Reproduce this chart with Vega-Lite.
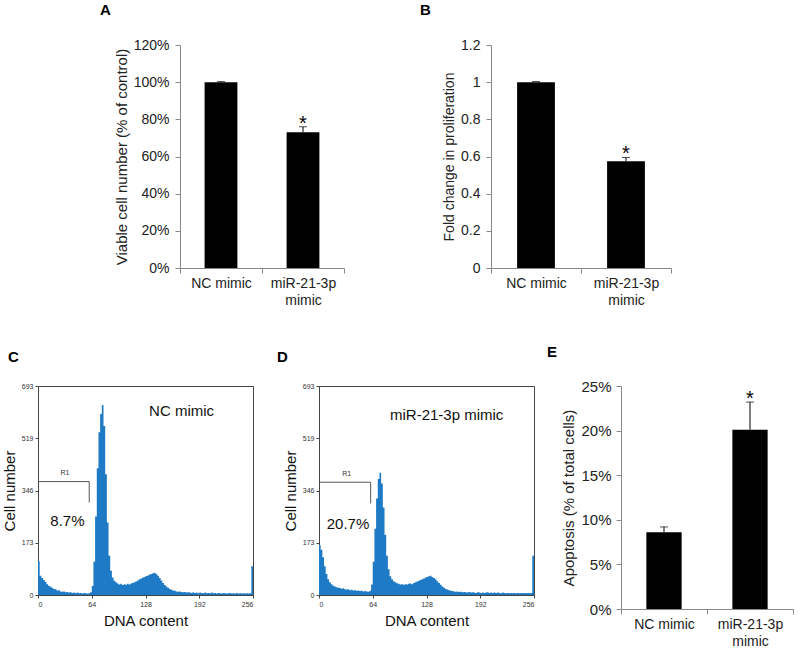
{
  "$schema": "https://vega.github.io/schema/vega-lite/v6.json",
  "padding": {"left": 1, "top": 3, "right": 5, "bottom": 5},
  "background": "white",
  "config": {
    "font": "Liberation Sans",
    "view": {"stroke": null},
    "axis": {"labelFont": "Liberation Sans", "titleFont": "Liberation Sans", "labelColor": "#222", "titleColor": "#222", "titleFontWeight": "normal", "domainColor": "#888", "tickColor": "#888", "grid": false, "labelOverlap": false},
    "title": {"font": "Liberation Sans", "fontSize": 15, "fontWeight": "bold", "anchor": "start", "frame": "group", "color": "#000"}
  },
  "datasets": {
    "A": [{"group": "NC mimic", "value": 1.0, "hi": 1.003, "star": ""}, {"group": "miR-21-3p mimic", "value": 0.73, "hi": 0.76, "star": "*"}],
    "B": [{"group": "NC mimic", "value": 1.0, "hi": 1.003, "star": ""}, {"group": "miR-21-3p mimic", "value": 0.575, "hi": 0.595, "star": "*"}],
    "E": [{"group": "NC mimic", "value": 0.086, "hi": 0.092, "star": ""}, {"group": "miR-21-3p mimic", "value": 0.201, "hi": 0.232, "star": "*"}],
    "C": [
      {"x":0,"y":112},{"x":2,"y":64},{"x":4,"y":56},{"x":6,"y":50},{"x":8,"y":44},{"x":10,"y":36},{"x":12,"y":31},{"x":14,"y":27},{"x":16,"y":24},{"x":18,"y":20},
      {"x":20,"y":19},{"x":22,"y":15},{"x":24,"y":16},{"x":26,"y":12},{"x":28,"y":11},{"x":30,"y":12},{"x":32,"y":9},{"x":34,"y":10},{"x":36,"y":8},{"x":38,"y":9},
      {"x":40,"y":7},{"x":42,"y":8},{"x":44,"y":6},{"x":46,"y":8},{"x":48,"y":6},{"x":50,"y":7},{"x":52,"y":5},{"x":54,"y":7},{"x":56,"y":6},{"x":58,"y":5},
      {"x":60,"y":6},{"x":62,"y":9},{"x":64,"y":30},{"x":66,"y":110},{"x":68,"y":260},{"x":70,"y":420},{"x":72,"y":540},{"x":74,"y":600},{"x":76,"y":630},{"x":78,"y":560},
      {"x":80,"y":400},{"x":82,"y":240},{"x":84,"y":130},{"x":86,"y":80},{"x":88,"y":58},{"x":90,"y":47},{"x":92,"y":42},{"x":94,"y":38},{"x":96,"y":35},{"x":98,"y":37},
      {"x":100,"y":33},{"x":102,"y":36},{"x":104,"y":34},{"x":106,"y":37},{"x":108,"y":35},{"x":110,"y":38},{"x":112,"y":40},{"x":114,"y":42},{"x":116,"y":45},{"x":118,"y":48},
      {"x":120,"y":52},{"x":122,"y":55},{"x":124,"y":58},{"x":126,"y":60},{"x":128,"y":63},{"x":130,"y":65},{"x":132,"y":68},{"x":134,"y":70},{"x":136,"y":72},{"x":138,"y":74},
      {"x":140,"y":70},{"x":142,"y":64},{"x":144,"y":56},{"x":146,"y":48},{"x":148,"y":40},{"x":150,"y":33},{"x":152,"y":28},{"x":154,"y":24},{"x":156,"y":20},{"x":158,"y":17},
      {"x":160,"y":15},{"x":162,"y":14},{"x":164,"y":12},{"x":166,"y":11},{"x":168,"y":12},{"x":170,"y":10},{"x":172,"y":9},{"x":174,"y":10},{"x":176,"y":8},{"x":178,"y":9},
      {"x":180,"y":8},{"x":182,"y":7},{"x":184,"y":9},{"x":186,"y":7},{"x":188,"y":8},{"x":190,"y":6},{"x":192,"y":8},{"x":194,"y":7},{"x":196,"y":6},{"x":198,"y":8},
      {"x":200,"y":6},{"x":202,"y":7},{"x":204,"y":6},{"x":206,"y":8},{"x":208,"y":6},{"x":210,"y":7},{"x":212,"y":5},{"x":214,"y":7},{"x":216,"y":6},{"x":218,"y":5},
      {"x":220,"y":7},{"x":222,"y":6},{"x":224,"y":5},{"x":226,"y":6},{"x":228,"y":7},{"x":230,"y":5},{"x":232,"y":6},{"x":234,"y":5},{"x":236,"y":7},{"x":238,"y":5},
      {"x":240,"y":6},{"x":242,"y":5},{"x":244,"y":6},{"x":246,"y":5},{"x":248,"y":6},{"x":250,"y":5},{"x":252,"y":6},{"x":254,"y":95},{"x":256,"y":95}
    ],
    "D": [
      {"x":0,"y":165},{"x":2,"y":150},{"x":4,"y":125},{"x":6,"y":95},{"x":8,"y":70},{"x":10,"y":52},{"x":12,"y":42},{"x":14,"y":36},{"x":16,"y":31},{"x":18,"y":28},
      {"x":20,"y":26},{"x":22,"y":24},{"x":24,"y":23},{"x":26,"y":21},{"x":28,"y":22},{"x":30,"y":19},{"x":32,"y":18},{"x":34,"y":19},{"x":36,"y":16},{"x":38,"y":17},
      {"x":40,"y":15},{"x":42,"y":16},{"x":44,"y":14},{"x":46,"y":15},{"x":48,"y":13},{"x":50,"y":14},{"x":52,"y":12},{"x":54,"y":13},{"x":56,"y":12},{"x":58,"y":11},
      {"x":60,"y":14},{"x":62,"y":35},{"x":64,"y":110},{"x":66,"y":220},{"x":68,"y":320},{"x":70,"y":385},{"x":72,"y":405},{"x":74,"y":370},{"x":76,"y":290},{"x":78,"y":200},
      {"x":80,"y":130},{"x":82,"y":85},{"x":84,"y":62},{"x":86,"y":52},{"x":88,"y":46},{"x":90,"y":42},{"x":92,"y":39},{"x":94,"y":37},{"x":96,"y":35},{"x":98,"y":36},
      {"x":100,"y":34},{"x":102,"y":36},{"x":104,"y":35},{"x":106,"y":37},{"x":108,"y":38},{"x":110,"y":36},{"x":112,"y":40},{"x":114,"y":42},{"x":116,"y":45},{"x":118,"y":47},
      {"x":120,"y":50},{"x":122,"y":52},{"x":124,"y":55},{"x":126,"y":58},{"x":128,"y":60},{"x":130,"y":62},{"x":132,"y":64},{"x":134,"y":60},{"x":136,"y":56},{"x":138,"y":52},
      {"x":140,"y":46},{"x":142,"y":40},{"x":144,"y":34},{"x":146,"y":28},{"x":148,"y":24},{"x":150,"y":20},{"x":152,"y":18},{"x":154,"y":16},{"x":156,"y":14},{"x":158,"y":13},
      {"x":160,"y":12},{"x":162,"y":11},{"x":164,"y":12},{"x":166,"y":10},{"x":168,"y":11},{"x":170,"y":9},{"x":172,"y":10},{"x":174,"y":9},{"x":176,"y":8},{"x":178,"y":10},
      {"x":180,"y":8},{"x":182,"y":9},{"x":184,"y":8},{"x":186,"y":7},{"x":188,"y":9},{"x":190,"y":8},{"x":192,"y":7},{"x":194,"y":8},{"x":196,"y":7},{"x":198,"y":8},
      {"x":200,"y":9},{"x":202,"y":7},{"x":204,"y":8},{"x":206,"y":7},{"x":208,"y":8},{"x":210,"y":7},{"x":212,"y":8},{"x":214,"y":7},{"x":216,"y":6},{"x":218,"y":8},
      {"x":220,"y":7},{"x":222,"y":6},{"x":224,"y":7},{"x":226,"y":6},{"x":228,"y":7},{"x":230,"y":6},{"x":232,"y":7},{"x":234,"y":6},{"x":236,"y":7},{"x":238,"y":6},
      {"x":240,"y":7},{"x":242,"y":6},{"x":244,"y":7},{"x":246,"y":6},{"x":248,"y":7},{"x":250,"y":6},{"x":252,"y":7},{"x":254,"y":130},{"x":256,"y":130}
    ],
    "C_gate": [{"x": 0, "x2": 61, "y": 376, "y2": 376}, {"x": 61, "x2": 61, "y": 376, "y2": 307}],
    "D_gate": [{"x": 0, "x2": 61.5, "y": 374, "y2": 374}, {"x": 61.5, "x2": 61.5, "y": 374, "y2": 304}],
    "C_text": [{"x": 32, "y": 405, "label": "R1", "kind": "small"}, {"x": 35, "y": 246, "label": "8.7%", "kind": "big"}, {"x": 171, "y": 609, "label": "NC mimic", "kind": "big"}],
    "D_text": [{"x": 33, "y": 402, "label": "R1", "kind": "small"}, {"x": 34.5, "y": 235, "label": "20.7%", "kind": "big"}, {"x": 152, "y": 596, "label": "miR-21-3p mimic", "kind": "big"}]
  },
  "spacing": 341,
  "bounds": "flush",
  "vconcat": [
    {
      "spacing": 0,
      "bounds": "flush",
      "hconcat": [
        {"width": 142, "height": 10, "data": {"values": [{}]}, "mark": {"type": "point", "opacity": 0}, "encoding": {}},
        {
          "width": 164, "height": 223,
          "title": {"text": "A", "dx": -80, "offset": 20},
          "data": {"name": "A"},
          "encoding": {"x": {"field": "group", "type": "nominal", "sort": null, "scale": {"paddingInner": 0, "paddingOuter": 0}, "axis": {"title": null, "labelAngle": 0, "tickBand": "extent", "labelFontSize": 14, "labelPadding": 3, "tickSize": 5, "labelLineHeight": 17, "labelExpr": "datum.value == 'miR-21-3p mimic' ? ['miR-21-3p', 'mimic'] : datum.value"}}},
          "layer": [
            {"mark": {"type": "bar", "color": "black", "width": {"band": 0.4}}, "encoding": {"y": {"field": "value", "type": "quantitative", "scale": {"domain": [0, 1.2], "nice": false}, "axis": {"title": "Viable cell number (% of control)", "format": ".0%", "values": [0, 0.2, 0.4, 0.6, 0.8, 1.0, 1.2], "labelFontSize": 14, "titleFontSize": 15, "tickSize": 5, "labelPadding": 6, "titlePadding": 4}}}},
            {"mark": {"type": "rule", "color": "black", "strokeWidth": 1}, "encoding": {"y": {"field": "value", "type": "quantitative", "axis": {"title": "Viable cell number (% of control)", "format": ".0%", "values": [0, 0.2, 0.4, 0.6, 0.8, 1.0, 1.2], "labelFontSize": 14, "titleFontSize": 15, "tickSize": 5, "labelPadding": 6, "titlePadding": 4}}, "y2": {"field": "hi"}}},
            {"mark": {"type": "tick", "color": "black", "size": 8, "thickness": 1}, "encoding": {"y": {"field": "hi", "type": "quantitative", "axis": {"title": "Viable cell number (% of control)", "format": ".0%", "values": [0, 0.2, 0.4, 0.6, 0.8, 1.0, 1.2], "labelFontSize": 14, "titleFontSize": 15, "tickSize": 5, "labelPadding": 6, "titlePadding": 4}}}},
            {"mark": {"type": "text", "fontSize": 20, "baseline": "alphabetic", "dy": 3}, "encoding": {"y": {"field": "hi", "type": "quantitative", "axis": {"title": "Viable cell number (% of control)", "format": ".0%", "values": [0, 0.2, 0.4, 0.6, 0.8, 1.0, 1.2], "labelFontSize": 14, "titleFontSize": 15, "tickSize": 5, "labelPadding": 6, "titlePadding": 4}}, "text": {"field": "star"}}}
          ]
        },
        {"width": 147, "height": 10, "data": {"values": [{}]}, "mark": {"type": "point", "opacity": 0}, "encoding": {}},
        {
          "width": 180, "height": 223,
          "title": {"text": "B", "dx": -71, "offset": 20},
          "data": {"name": "B"},
          "encoding": {"x": {"field": "group", "type": "nominal", "sort": null, "scale": {"paddingInner": 0, "paddingOuter": 0}, "axis": {"title": null, "labelAngle": 0, "tickBand": "extent", "labelFontSize": 14, "labelPadding": 3, "tickSize": 5, "labelLineHeight": 17, "labelExpr": "datum.value == 'miR-21-3p mimic' ? ['miR-21-3p', 'mimic'] : datum.value"}}},
          "layer": [
            {"mark": {"type": "bar", "color": "black", "width": {"band": 0.42}}, "encoding": {"y": {"field": "value", "type": "quantitative", "scale": {"domain": [0, 1.2], "nice": false}, "axis": {"title": "Fold change in proliferation", "format": ".1~f", "values": [0, 0.2, 0.4, 0.6, 0.8, 1.0, 1.2], "labelFontSize": 14, "titleFontSize": 14, "tickSize": 5, "labelPadding": 6, "titlePadding": 4}}}},
            {"mark": {"type": "rule", "color": "black", "strokeWidth": 1}, "encoding": {"y": {"field": "value", "type": "quantitative", "axis": {"title": "Fold change in proliferation", "format": ".1~f", "values": [0, 0.2, 0.4, 0.6, 0.8, 1.0, 1.2], "labelFontSize": 14, "titleFontSize": 14, "tickSize": 5, "labelPadding": 6, "titlePadding": 4}}, "y2": {"field": "hi"}}},
            {"mark": {"type": "tick", "color": "black", "size": 8, "thickness": 1}, "encoding": {"y": {"field": "hi", "type": "quantitative", "axis": {"title": "Fold change in proliferation", "format": ".1~f", "values": [0, 0.2, 0.4, 0.6, 0.8, 1.0, 1.2], "labelFontSize": 14, "titleFontSize": 14, "tickSize": 5, "labelPadding": 6, "titlePadding": 4}}}},
            {"mark": {"type": "text", "fontSize": 20, "baseline": "alphabetic", "dy": 3}, "encoding": {"y": {"field": "hi", "type": "quantitative", "axis": {"title": "Fold change in proliferation", "format": ".1~f", "values": [0, 0.2, 0.4, 0.6, 0.8, 1.0, 1.2], "labelFontSize": 14, "titleFontSize": 14, "tickSize": 5, "labelPadding": 6, "titlePadding": 4}}, "text": {"field": "star"}}}
          ]
        }
      ]
    },
    {
      "spacing": 0,
      "bounds": "flush",
      "hconcat": [
        {
          "width": 215, "height": 209,
          "view": {"stroke": "#444", "strokeWidth": 1},
          "title": {"text": "C", "dx": -30, "offset": 17},
          "encoding": {
            "x": {"field": "x", "type": "quantitative", "scale": {"domain": [0, 256], "nice": false}, "axis": {"title": "DNA content", "values": [0, 64, 128, 192, 256], "domain": false, "tickColor": "#444", "tickSize": 3, "labelFontSize": 7, "labelColor": "#333", "labelPadding": 2, "titleFontSize": 15, "titlePadding": 6, "titleColor": "#111"}},
            "y": {"field": "y", "type": "quantitative", "scale": {"domain": [0, 693], "nice": false}, "axis": {"title": "Cell number", "values": [0, 173, 346, 519, 693], "domain": false, "tickColor": "#444", "tickSize": 3, "labelFontSize": 7, "labelColor": "#333", "labelPadding": 2, "titleFontSize": 15, "titlePadding": 4, "titleColor": "#111"}}
          },
          "layer": [
            {"data": {"name": "C"}, "mark": {"type": "area", "interpolate": "step-after", "color": "#1f7ac6"}},
            {"data": {"name": "C_gate"}, "mark": {"type": "rule", "color": "#555", "strokeWidth": 1}, "encoding": {"x2": {"field": "x2"}, "y2": {"field": "y2"}}},
            {"data": {"name": "C_text"}, "transform": [{"filter": "datum.kind == 'small'"}], "mark": {"type": "text", "fontSize": 7, "color": "#333"}, "encoding": {"text": {"field": "label"}}},
            {"data": {"name": "C_text"}, "transform": [{"filter": "datum.kind == 'big'"}], "mark": {"type": "text", "fontSize": 15, "color": "#111"}, "encoding": {"text": {"field": "label"}}}
          ]
        },
        {"width": 66, "height": 10, "data": {"values": [{}]}, "mark": {"type": "point", "opacity": 0}, "encoding": {}},
        {
          "width": 215, "height": 209,
          "view": {"stroke": "#444", "strokeWidth": 1},
          "title": {"text": "D", "dx": -42, "offset": 17},
          "encoding": {
            "x": {"field": "x", "type": "quantitative", "scale": {"domain": [0, 256], "nice": false}, "axis": {"title": "DNA content", "values": [0, 64, 128, 192, 256], "domain": false, "tickColor": "#444", "tickSize": 3, "labelFontSize": 7, "labelColor": "#333", "labelPadding": 2, "titleFontSize": 15, "titlePadding": 6, "titleColor": "#111"}},
            "y": {"field": "y", "type": "quantitative", "scale": {"domain": [0, 693], "nice": false}, "axis": {"title": "Cell number", "values": [0, 173, 346, 519, 693], "domain": false, "tickColor": "#444", "tickSize": 3, "labelFontSize": 7, "labelColor": "#333", "labelPadding": 2, "titleFontSize": 15, "titlePadding": 4, "titleColor": "#111"}}
          },
          "layer": [
            {"data": {"name": "D"}, "mark": {"type": "area", "interpolate": "step-after", "color": "#1f7ac6"}},
            {"data": {"name": "D_gate"}, "mark": {"type": "rule", "color": "#555", "strokeWidth": 1}, "encoding": {"x2": {"field": "x2"}, "y2": {"field": "y2"}}},
            {"data": {"name": "D_text"}, "transform": [{"filter": "datum.kind == 'small'"}], "mark": {"type": "text", "fontSize": 7, "color": "#333"}, "encoding": {"text": {"field": "label"}}},
            {"data": {"name": "D_text"}, "transform": [{"filter": "datum.kind == 'big'"}], "mark": {"type": "text", "fontSize": 15, "color": "#111"}, "encoding": {"text": {"field": "label"}}}
          ]
        },
        {"width": 87, "height": 10, "data": {"values": [{}]}, "mark": {"type": "point", "opacity": 0}, "encoding": {}},
        {
          "width": 172, "height": 223,
          "title": {"text": "E", "dx": -74, "offset": 19},
          "data": {"name": "E"},
          "encoding": {"x": {"field": "group", "type": "nominal", "sort": null, "scale": {"paddingInner": 0, "paddingOuter": 0}, "axis": {"title": null, "labelAngle": 0, "tickBand": "extent", "labelFontSize": 14, "labelPadding": 3, "tickSize": 5, "labelLineHeight": 17, "labelExpr": "datum.value == 'miR-21-3p mimic' ? ['miR-21-3p', 'mimic'] : datum.value"}}},
          "layer": [
            {"mark": {"type": "bar", "color": "black", "width": {"band": 0.41}}, "encoding": {"y": {"field": "value", "type": "quantitative", "scale": {"domain": [0, 0.25], "nice": false}, "axis": {"title": "Apoptosis (% of total cells)", "format": ".0%", "values": [0, 0.05, 0.1, 0.15, 0.2, 0.25], "labelFontSize": 15, "titleFontSize": 15, "tickSize": 5, "labelPadding": 5, "titlePadding": 4}}}},
            {"mark": {"type": "rule", "color": "black", "strokeWidth": 1}, "encoding": {"y": {"field": "value", "type": "quantitative", "axis": {"title": "Apoptosis (% of total cells)", "format": ".0%", "values": [0, 0.05, 0.1, 0.15, 0.2, 0.25], "labelFontSize": 15, "titleFontSize": 15, "tickSize": 5, "labelPadding": 5, "titlePadding": 4}}, "y2": {"field": "hi"}}},
            {"mark": {"type": "tick", "color": "black", "size": 8, "thickness": 1}, "encoding": {"y": {"field": "hi", "type": "quantitative", "axis": {"title": "Apoptosis (% of total cells)", "format": ".0%", "values": [0, 0.05, 0.1, 0.15, 0.2, 0.25], "labelFontSize": 15, "titleFontSize": 15, "tickSize": 5, "labelPadding": 5, "titlePadding": 4}}}},
            {"mark": {"type": "text", "fontSize": 20, "baseline": "alphabetic", "dy": 3}, "encoding": {"y": {"field": "hi", "type": "quantitative", "axis": {"title": "Apoptosis (% of total cells)", "format": ".0%", "values": [0, 0.05, 0.1, 0.15, 0.2, 0.25], "labelFontSize": 15, "titleFontSize": 15, "tickSize": 5, "labelPadding": 5, "titlePadding": 4}}, "text": {"field": "star"}}}
          ]
        }
      ]
    }
  ]
}
